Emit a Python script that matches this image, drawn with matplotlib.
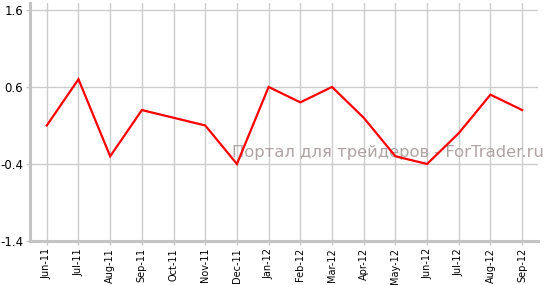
import numpy as np
import matplotlib
matplotlib.use("Agg")
import matplotlib.pyplot as plt

months = ["Jun-11", "Jul-11", "Aug-11", "Sep-11", "Oct-11", "Nov-11", "Dec-11", "Jan-12",
          "Feb-12", "Mar-12", "Apr-12", "May-12", "Jun-12", "Jul-12", "Aug-12", "Sep-12"]
values = [0.1, 0.7, -0.3, 0.3, 0.2, 0.1, -0.4, 0.6, 0.4, 0.6, 0.2, -0.3, -0.4, 0.0, 0.5, 0.3]
yticks = [-1.4, -0.4, 0.6, 1.6]

fig = plt.figure(figsize=(5.51, 2.85), dpi=100)
ax = fig.add_axes([30/551, 44/285, 508/551, 238/285])

x = np.arange(len(months))
ax.plot(x, values, color="#ff0000", lw=1.6, zorder=3, solid_joinstyle="miter")

ax.set_xlim(-0.53, len(months) - 0.5)
ax.set_ylim(-1.4, 1.69)
ax.set_yticks(yticks)
ax.set_yticklabels([f"{v:.1f}" for v in yticks], fontsize=8.5)
ax.set_xticks(x)
ax.set_xticklabels(months, rotation=90, fontsize=7)

ax.grid(True, color="#cccccc", lw=1)
ax.set_axisbelow(True)
for s in ["top", "right"]:
    ax.spines[s].set_visible(False)
for s in ["left", "bottom"]:
    ax.spines[s].set_color("#c4c4c4")
    ax.spines[s].set_linewidth(2.2)
ax.tick_params(axis="both", color="#c4c4c4", length=3, width=1, pad=2)

# watermark
ax.text(544/551, 1 - 153/285, "Портал для трейдеров - ForTrader.ru", transform=fig.transFigure,
        ha="right", va="center", fontsize=11.8, color="#a69a9a", alpha=0.9, zorder=2)

fig.savefig("out.png", dpi=100)
